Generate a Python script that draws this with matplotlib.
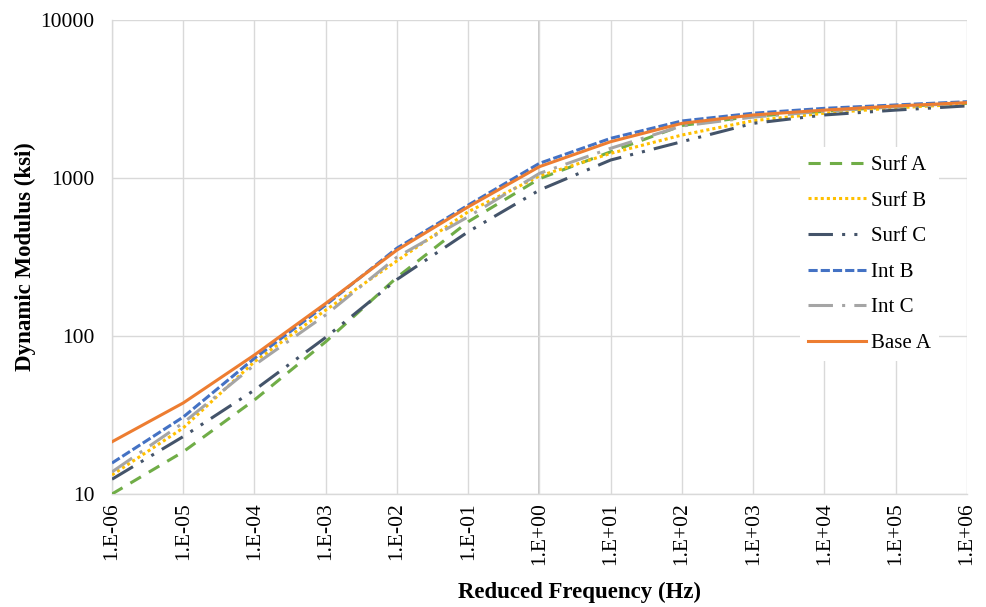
import matplotlib
matplotlib.use("Agg")
import matplotlib.pyplot as plt

plt.rcParams['font.family'] = ['Liberation Serif', 'DejaVu Serif']

freq = [1e-6, 1e-5, 1e-4, 1e-3, 1e-2, 1e-1, 1e0, 1e1, 1e2, 1e3, 1e4, 1e5, 1e6]
x_tick_labels = ["1.E-06", "1.E-05", "1.E-04", "1.E-03", "1.E-02", "1.E-01", "1.E+00",
                 "1.E+01", "1.E+02", "1.E+03", "1.E+04", "1.E+05", "1.E+06"]

surf_a = [10.0, 18.5, 39.4, 92, 235, 529, 990, 1466, 2150, 2460, 2640, 2830, 2970]
surf_b = [13.2, 26.2, 68.8, 146, 299, 612, 1030, 1432, 1871, 2306, 2570, 2780, 2940]
surf_c = [12.4, 23.1, 45.5, 98, 228, 457, 839, 1300, 1698, 2218, 2506, 2690, 2860]
int_b = [15.7, 30.7, 72.3, 157, 360, 674, 1239, 1783, 2296, 2570, 2760, 2900, 3040]
int_c = [13.8, 28.2, 65.5, 136, 316, 569, 1070, 1542, 2134, 2430, 2650, 2830, 2980]
base_a = [21.4, 37.7, 75.9, 161, 350, 657, 1180, 1698, 2218, 2506, 2690, 2856, 3000]

series = [
    ("Surf A", surf_a, "#70AD47", (0, (4, 3))),
    ("Surf B", surf_b, "#FFC000", (0, (1, 1))),
    ("Surf C", surf_c, "#44546A", (0, (8, 3, 1, 3, 1, 3))),
    ("Int B", int_b, "#4472C4", (0, (3, 1))),
    ("Int C", int_c, "#A5A5A5", (0, (8, 3, 1, 3))),
    ("Base A", base_a, "#ED7D31", "-"),
]

fig = plt.figure(figsize=(9.87, 6.07), dpi=100)
ax = fig.add_axes([112/987, 1 - 494/607, (967-112)/987, (494-20)/607])

for name, vals, col, ls in series:
    ax.plot(freq, vals, color=col, linestyle=ls, lw=2.2, label=name, zorder=3)

ax.set_xscale('log')
ax.set_yscale('log')
ax.set_xlim(1e-6, 1e6)
ax.set_ylim(10, 10000)

ax.set_xticks(freq)
ax.set_xticklabels(x_tick_labels, rotation=90, fontsize=15.5)
ax.set_yticks([10, 100, 1000, 10000])
ax.set_yticklabels(["10", "100", "1000", "10000"], fontsize=15.5)
ax.minorticks_off()
ax.tick_params(axis='y', length=0, pad=12.5)
ax.tick_params(axis='x', length=0, pad=6)

ax.grid(True, which='major', color='#D9D9D9', lw=1.0, zorder=0)
ax.axvline(1, color='#BFBFBF', lw=1.2, zorder=1)
for s in ['top', 'right']:
    ax.spines[s].set_visible(False)
for s in ['left', 'bottom']:
    ax.spines[s].set_color('#D9D9D9')
    ax.spines[s].set_linewidth(1.0)

ax.set_xlabel("Reduced Frequency (Hz)", fontsize=16.5, fontweight='bold', labelpad=12,
              x=(580-112)/855)
ax.set_ylabel("Dynamic Modulus (ksi)", fontsize=16.5, fontweight='bold', labelpad=3)

leg = ax.legend(loc='upper left', bbox_to_anchor=((800-112)/855, (494-147)/474),
                frameon=True, fontsize=15, handlelength=2.75, handletextpad=0.25,
                labelspacing=0.77, borderpad=0.4, borderaxespad=0, fancybox=False)
leg.get_frame().set_edgecolor('none')
leg.get_frame().set_facecolor('white')
leg.get_frame().set_alpha(1)

fig.savefig("out.png", dpi=100)
